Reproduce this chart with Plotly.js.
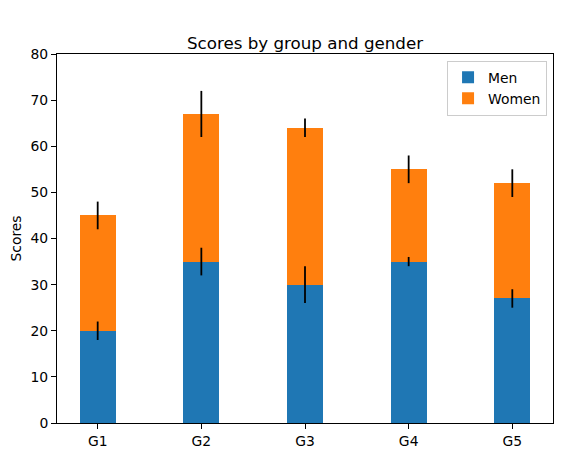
<!DOCTYPE html>
<html>
<head>
<meta charset="utf-8">
<script src="https://cdn.plot.ly/plotly-3.0.1.min.js"></script>
<style>html,body{margin:0;padding:0;background:#fff;}#chart{width:573px;height:456px;}</style>
</head>
<body>
<div id="chart"></div>
<script>
const groups = ['G1', 'G2', 'G3', 'G4', 'G5'];
const menMeans = [20, 35, 30, 35, 27];
const womenMeans = [25, 32, 34, 20, 25];
const menStd = [2, 3, 4, 1, 2];
const womenStd = [3, 5, 2, 3, 3];
const yTicks = [0, 10, 20, 30, 40, 50, 60, 70, 80];

const stackTops = menMeans.map((m, i) => m + womenMeans[i]);

const font = {family: 'DejaVu Sans', size: 13.9, color: '#000'};

const errStyle = {type: 'data', visible: true, color: '#000', thickness: 1.8, width: 0};

const traces = [
  {
    type: 'bar', name: 'Men', x: groups, y: menMeans, width: 0.35,
    marker: {color: '#1f77b4', line: {width: 0}}
  },
  {
    type: 'bar', name: 'Women', x: groups, y: womenMeans, width: 0.35,
    marker: {color: '#ff7f0e', line: {width: 0}}
  },
  {
    type: 'scatter', mode: 'markers', x: groups, y: menMeans, showlegend: false,
    marker: {size: 1, opacity: 0}, error_y: Object.assign({array: menStd}, errStyle), hoverinfo: 'skip'
  },
  {
    type: 'scatter', mode: 'markers', x: groups, y: stackTops, showlegend: false,
    marker: {size: 1, opacity: 0}, error_y: Object.assign({array: womenStd}, errStyle), hoverinfo: 'skip'
  }
];

const layout = {
  width: 573, height: 456,
  margin: {l: 57, r: 20, t: 54, b: 33, pad: 0},
  barmode: 'stack',
  paper_bgcolor: '#fff', plot_bgcolor: '#fff',
  font: font,
  showlegend: true,
  title: {text: 'Scores by group and gender', font: {family: 'DejaVu Sans', size: 16.7, color: '#000'}, x: 0.5, xref: 'paper', y: 1, yref: 'paper', yanchor: 'bottom', pad: {b: 5}},
  xaxis: {
    type: 'category', range: [-0.3925, 4.3925],
    showline: true, linecolor: '#000', linewidth: 1, mirror: true,
    ticks: 'outside', ticklen: 5, tickwidth: 1, tickcolor: '#000',
    showgrid: false, zeroline: false, tickfont: font, fixedrange: true
  },
  yaxis: {
    range: [0, 80], tickvals: yTicks, ticktext: yTicks.map(String),
    showline: true, linecolor: '#000', linewidth: 1, mirror: true,
    ticks: 'outside', ticklen: 5, tickwidth: 1, tickcolor: '#000',
    showgrid: false, zeroline: false, tickfont: font, fixedrange: true,
    title: {text: 'Scores', font: font, standoff: 5}
  },
  legend: {
    x: 0.988, xanchor: 'right', y: 0.982, yanchor: 'top',
    bgcolor: 'rgba(255,255,255,0.8)', bordercolor: '#ccc', borderwidth: 1,
    font: font, traceorder: 'normal', itemwidth: 30, tracegroupgap: 0
  }
};

Plotly.newPlot('chart', traces, layout, {displayModeBar: false, staticPlot: true});
</script>
</body>
</html>
